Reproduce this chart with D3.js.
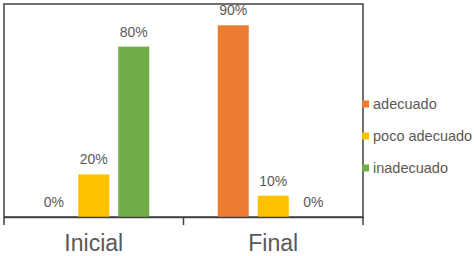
<!DOCTYPE html>
<html><head><meta charset="utf-8">
<script src="https://cdn.jsdelivr.net/npm/d3@7"></script>
<style>body{margin:0;background:#fff}svg{display:block}</style>
</head><body>
<svg id="c" width="474" height="256"></svg>
<script>
const categories = ["Inicial", "Final"];
const seriesNames = ["adecuado", "poco adecuado", "inadecuado"];
const adecuado = [0.0, 0.9];
const pocoAdecuado = [0.2, 0.1];
const inadecuado = [0.8, 0.0];
const colors = ["#ED7D31", "#FFC000", "#70AD47"];

const seriesValues = [adecuado, pocoAdecuado, inadecuado];
const svg = d3.select("#c");
const L = 4, R = 363, T = 4, B = 217;
const font = "'Liberation Sans', Arial, sans-serif";
const txt = "#595959", axisCol = "#404040";

const x0 = d3.scaleBand().domain(categories).range([L, R]).paddingInner(0).paddingOuter(0);
const x1 = d3.scaleBand().domain(seriesNames).range([0, x0.bandwidth()]).paddingInner(0.225).paddingOuter(0.856);
const y = d3.scaleLinear().domain([0, 1]).range([B, T]);

// plot border
svg.append("rect").attr("x", L).attr("y", T).attr("width", R - L).attr("height", B - T)
  .attr("fill", "none").attr("stroke", axisCol).attr("stroke-width", 1.5);

const data = [];
categories.forEach((c, ci) => seriesNames.forEach((s, si) => data.push({c, s, si, v: seriesValues[si][ci]})));

svg.selectAll("rect.bar").data(data).enter().append("rect").attr("class", "bar")
  .attr("x", d => x0(d.c) + x1(d.s)).attr("width", x1.bandwidth())
  .attr("y", d => y(d.v)).attr("height", d => B - y(d.v))
  .attr("fill", d => colors[d.si]);

svg.selectAll("text.lbl").data(data).enter().append("text").attr("class", "lbl")
  .attr("x", d => x0(d.c) + x1(d.s) + x1.bandwidth() / 2)
  .attr("y", d => y(d.v) - 10)
  .attr("text-anchor", "middle").attr("font-family", font).attr("font-size", 14).attr("fill", txt)
  .text(d => d3.format(".0%")(d.v));

// x axis
const xAxis = d3.axisBottom(x0).tickSize(0).tickFormat("");
const gx = svg.append("g").attr("transform", `translate(0,${B})`).call(xAxis);
gx.select(".domain").attr("stroke", axisCol).attr("stroke-width", 1.5);
// category boundary ticks
const bounds = [L, ...categories.map(c => x0(c) + x0.bandwidth())];
svg.selectAll("line.tk").data(bounds).enter().append("line").attr("class", "tk")
  .attr("x1", d => d).attr("x2", d => d).attr("y1", B).attr("y2", B + 8)
  .attr("stroke", axisCol).attr("stroke-width", 1.5);

svg.selectAll("text.cat").data(categories).enter().append("text").attr("class", "cat")
  .attr("x", d => x0(d) + x0.bandwidth() / 2).attr("y", 251)
  .attr("text-anchor", "middle").attr("font-family", font).attr("font-size", 23).attr("fill", txt)
  .text(d => d);

// legend
const legY = d3.scalePoint().domain(seriesNames).range([104, 168]);
const lg = svg.selectAll("g.leg").data(seriesNames).enter().append("g").attr("class", "leg")
  .attr("transform", d => `translate(362,${legY(d)})`);
lg.append("rect").attr("x", 0).attr("y", -3.5).attr("width", 7).attr("height", 7).attr("fill", (d, i) => colors[i]);
lg.append("text").attr("x", 11).attr("y", 0).attr("dy", "0.35em")
  .attr("font-family", font).attr("font-size", 14.5).attr("fill", txt).text(d => d);
</script>
</body></html>
